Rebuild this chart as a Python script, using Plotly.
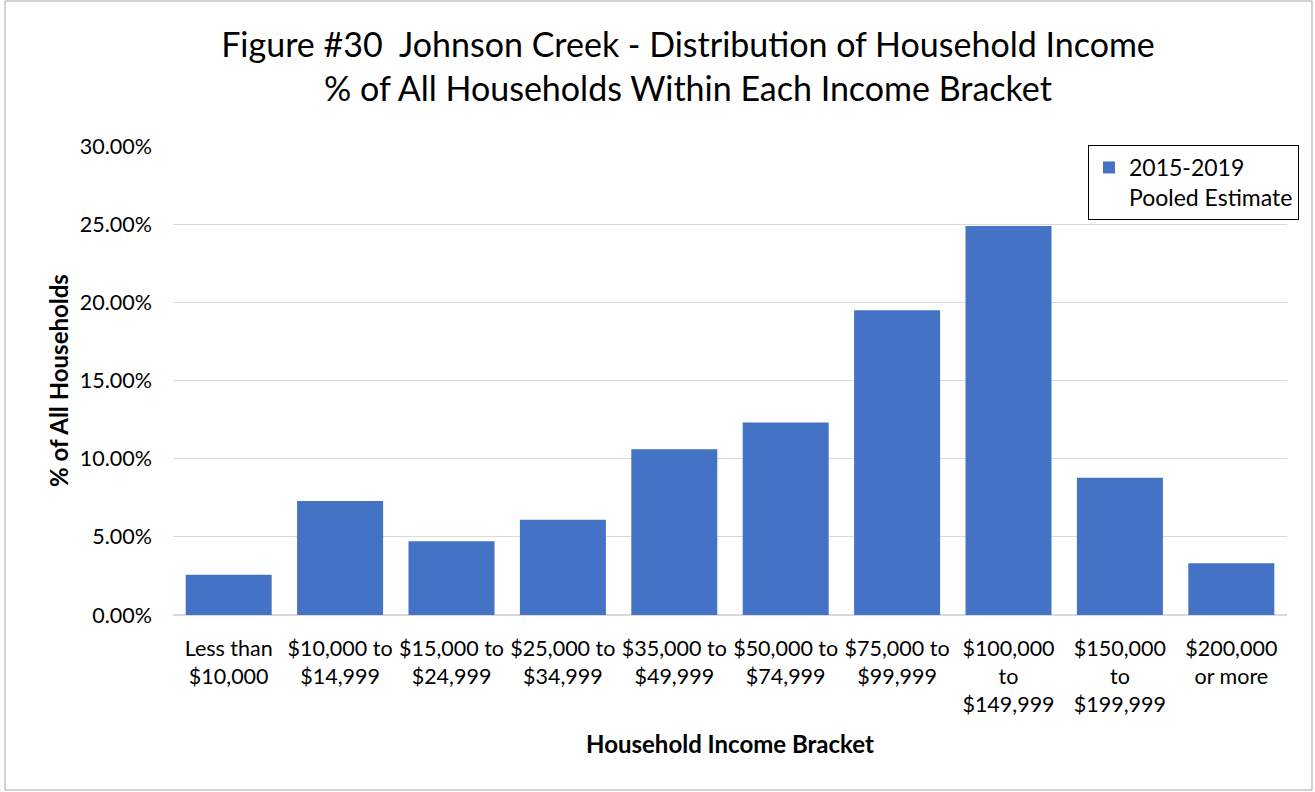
import plotly.graph_objects as go

categories = [
    "Less than<br>$10,000",
    "$10,000 to<br>$14,999",
    "$15,000 to<br>$24,999",
    "$25,000 to<br>$34,999",
    "$35,000 to<br>$49,999",
    "$50,000 to<br>$74,999",
    "$75,000 to<br>$99,999",
    "$100,000<br>to<br>$149,999",
    "$150,000<br>to<br>$199,999",
    "$200,000<br>or more",
]
values = [0.0257, 0.0729, 0.0472, 0.0610, 0.1061, 0.1231, 0.1950, 0.2488, 0.0878, 0.0331]
series_name = "2015-2019<br>Pooled Estimate"
y_ticks = [0, 0.05, 0.10, 0.15, 0.20, 0.25, 0.30]

FONT = "Lato"
W, H = 1315, 792
L, R, T, B = 173, 1287, 146, 615

def px(x):
    return (x - L) / (R - L)

def py(y):
    return (B - y) / (B - T)

fig = go.Figure()
fig.add_trace(go.Bar(
    x=categories, y=values, name=series_name,
    marker=dict(color="#4472C4", line=dict(width=0)),
    showlegend=True,
))

fig.update_layout(
    width=W, height=H,
    margin=dict(l=L, r=W - R, t=T, b=H - B, autoexpand=False),
    paper_bgcolor="white", plot_bgcolor="white",
    font=dict(family=FONT, color="#000000", size=21),
    bargap=0.228,
    title=dict(
        text="Figure #30  Johnson Creek - Distribution of Household Income<br>% of All Households Within Each Income Bracket",
        x=688 / W, xanchor="center", xref="container",
        y=1 - 57 / H, yanchor="middle", yref="container",
        font=dict(family=FONT, size=34, color="#000000"),
    ),
    xaxis=dict(
        showgrid=False, showline=True, linecolor="#d9d9d9", linewidth=1,
        ticks="", ticklabelstandoff=14,
        tickfont=dict(family=FONT, size=21.5, color="#000000"),
        title=dict(text="<b>Household Income Bracket</b>", standoff=20,
                   font=dict(family=FONT, size=24, color="#000000")),
    ),
    yaxis=dict(
        range=[0, 0.30], tickvals=y_ticks, tickformat=".2%",
        showgrid=True, gridcolor="#d9d9d9", gridwidth=1,
        zeroline=True, zerolinecolor="#d9d9d9",
        ticks="", ticklabelstandoff=20,
        tickfont=dict(family=FONT, size=21.5, color="#000000"),
        title=dict(text="<b>% of All Households</b>", standoff=4,
                   font=dict(family=FONT, size=24, color="#000000")),
    ),
    legend=dict(
        x=px(1088), y=py(145), xanchor="left", yanchor="top",
        bordercolor="#000000", borderwidth=1, bgcolor="white",
        font=dict(family=FONT, size=23, color="#000000"),
        valign="top", itemwidth=30, tracegroupgap=0,
    ),
    shapes=[dict(
        type="rect", xref="paper", yref="paper",
        x0=px(5), x1=px(1312), y0=py(790), y1=py(1),
        line=dict(color="#a6a6a6", width=1), fillcolor="rgba(0,0,0,0)",
        layer="below",
    )],
)

fig.write_html(
    "out.html",
    config={"displayModeBar": False},
    post_script="document.body.style.margin='0';document.body.style.overflow='hidden';",
)
